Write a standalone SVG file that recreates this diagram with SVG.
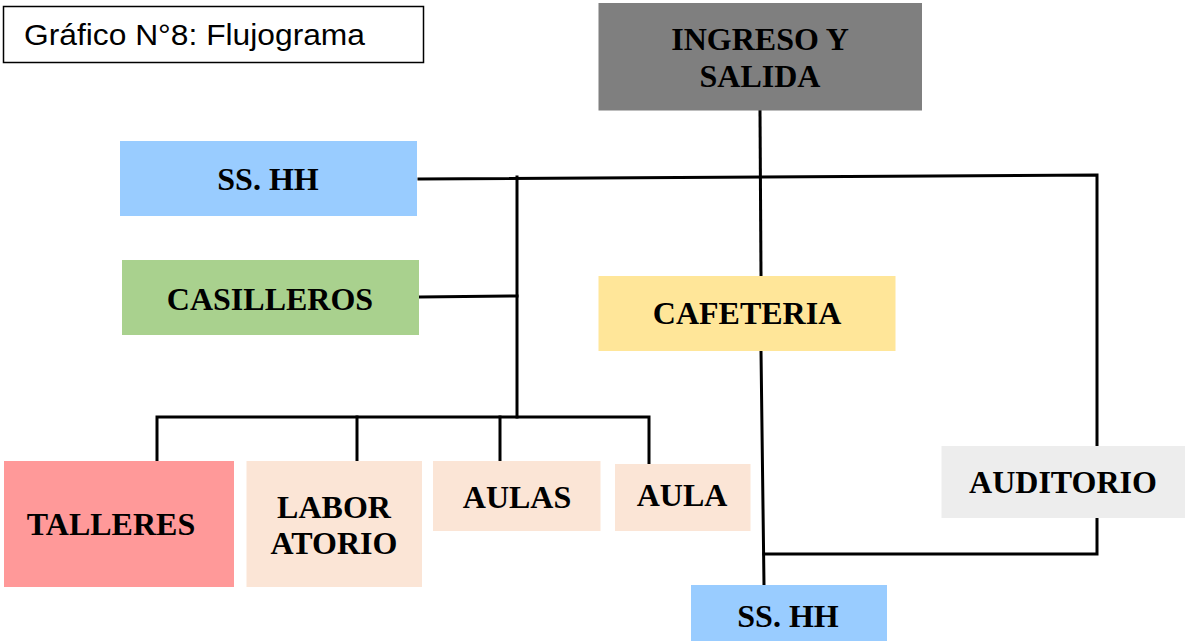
<svg xmlns="http://www.w3.org/2000/svg" width="1185" height="641" viewBox="0 0 1185 641">
<style>
.lbl{font-family:"Liberation Serif","Times New Roman",serif;font-weight:bold;font-size:32px;fill:#000;text-anchor:middle}
.ln{fill:none;stroke:#000;stroke-width:3;stroke-linejoin:miter;stroke-linecap:square}
</style>
<rect width="1185" height="641" fill="#fff"/>
<g id="title">
<rect x="3.5" y="6.5" width="420" height="56" fill="#fff" stroke="#000" stroke-width="1.5"/>
<text x="24" y="45" font-family="Liberation Sans, Arial, sans-serif" font-size="29" textLength="341" lengthAdjust="spacingAndGlyphs" fill="#000">Gráfico N°8: Flujograma</text>
</g>
<g id="connectors">
<path class="ln" d="M760,111 L761,276"/>
<path class="ln" d="M419,179 L1097,175 L1097,446"/>
<path class="ln" d="M1097,518 L1097,554 L764,554"/>
<path class="ln" d="M761,351 L764,585"/>
<path class="ln" d="M517,177 L517,417"/>
<path class="ln" d="M420,297 L517,296"/>
<path class="ln" d="M157,461 L157,417 L649,417 L649,465"/>
<path class="ln" d="M357,417 L357,461"/>
<path class="ln" d="M500,417 L500,463"/>
</g>
<g id="ingreso">
<rect x="598.5" y="3" width="323.5" height="107.5" fill="#7F7F7F"/>
<text class="lbl" x="760" y="50">INGRESO Y</text>
<text class="lbl" x="760" y="87">SALIDA</text>
</g>
<g id="sshh1">
<rect x="120" y="141" width="297" height="75" fill="#99CCFF"/>
<text class="lbl" x="268" y="190">SS. HH</text>
</g>
<g id="casilleros">
<rect x="122" y="260" width="297" height="75" fill="#A9D18E"/>
<text class="lbl" x="270" y="310">CASILLEROS</text>
</g>
<g id="cafeteria">
<rect x="598.5" y="276" width="297" height="75" fill="#FFE699"/>
<text class="lbl" x="747" y="324">CAFETERIA</text>
</g>
<g id="talleres">
<rect x="4" y="461" width="230" height="126" fill="#FF9999"/>
<text class="lbl" x="111" y="535">TALLERES</text>
</g>
<g id="laboratorio">
<rect x="246.5" y="461" width="175.5" height="126" fill="#FBE5D6"/>
<text class="lbl" x="334" y="518">LABOR</text>
<text class="lbl" x="334" y="554">ATORIO</text>
</g>
<g id="aulas">
<rect x="433" y="461" width="167.5" height="70" fill="#FBE5D6"/>
<text class="lbl" x="517" y="508">AULAS</text>
</g>
<g id="aula">
<rect x="615" y="464" width="135.5" height="67" fill="#FBE5D6"/>
<text class="lbl" x="682" y="506">AULA</text>
</g>
<g id="auditorio">
<rect x="941.5" y="446" width="243.5" height="72" fill="#EDEDED"/>
<text class="lbl" x="1063" y="493">AUDITORIO</text>
</g>
<g id="sshh2">
<rect x="691" y="585" width="196" height="56" fill="#99CCFF"/>
<text class="lbl" x="788" y="627">SS. HH</text>
</g>
</svg>
